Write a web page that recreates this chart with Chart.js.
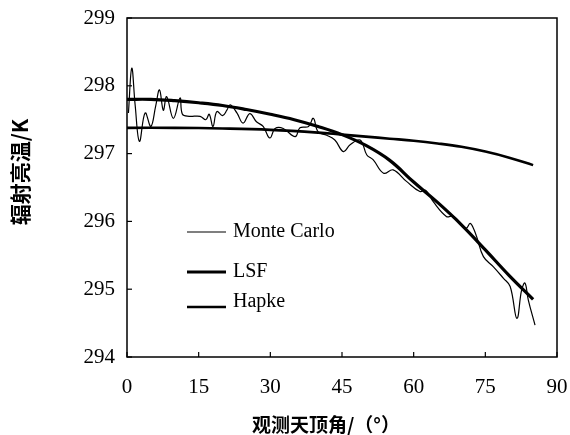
<!DOCTYPE html>
<html>
<head>
<meta charset="utf-8">
<script src="https://cdn.jsdelivr.net/npm/chart.js@4.4.0/dist/chart.umd.min.js"></script>
<style>
  html, body { margin: 0; padding: 0; background: #fff; }
  #wrap { width: 570px; height: 435px; }
</style>
</head>
<body>
<div id="wrap"><canvas id="myChart"></canvas></div>
<script>
// viewing zenith angle (deg) vs brightness temperature (K)
const mcAngle = [0.3, 1.0, 1.7, 2.6, 3.8, 5.0, 6.0, 6.8, 7.6, 8.3, 9.7, 11.1, 11.6, 13.0, 15.3, 16.5, 17.2, 18.0, 18.8, 20.0,
  20.9, 21.6, 23.0, 24.3, 25.7, 27.1, 28.5, 29.9, 31.0, 32.7, 35.2, 36.2, 38.0, 39.0, 40.0, 41.8, 43.5, 45.3, 46.7, 48.8,
  50.2, 51.5, 53.7, 55.7, 58.5, 61.3, 62.5, 64.1, 66.9, 68.2, 69.5, 71.0, 71.8, 72.5, 73.2, 74.6, 76.7, 78.8, 80.2, 81.6,
  82.6, 83.3, 84.0, 85.4];
const mcTemp = [297.6, 298.26, 297.72, 297.18, 297.6, 297.4, 297.7, 297.94, 297.64, 297.84, 297.52, 297.82, 297.58, 297.55, 297.55, 297.5, 297.58, 297.4, 297.62, 297.56,
  297.64, 297.72, 297.6, 297.45, 297.59, 297.47, 297.4, 297.23, 297.37, 297.37, 297.25, 297.38, 297.4, 297.52, 297.32, 297.27, 297.2, 297.03, 297.13, 297.2,
  296.98, 296.91, 296.71, 296.76, 296.59, 296.44, 296.46, 296.29, 296.07, 296.08, 296.0, 295.9, 295.97, 295.9, 295.77, 295.48, 295.33, 295.16, 295.04, 294.57,
  294.99, 295.09, 294.84, 294.47];

const lsfAngle = [0, 5, 10, 15, 20, 25, 30, 35, 40, 45, 50, 55, 60, 65, 70, 75, 80, 85];
const lsfTemp = [297.8, 297.8, 297.78, 297.75, 297.71, 297.65, 297.58, 297.5, 297.4, 297.28, 297.12, 296.9, 296.58, 296.28, 295.95, 295.58, 295.2, 294.85];

const hapkeAngle = [0, 10, 20, 30, 40, 45, 50, 55, 60, 65, 70, 75, 80, 85];
const hapkeTemp = [297.38, 297.38, 297.37, 297.35, 297.31, 297.28, 297.25, 297.22, 297.19, 297.15, 297.1, 297.03, 296.94, 296.83];

const xTicks = [0, 15, 30, 45, 60, 75, 90];
const yTicks = [294, 295, 296, 297, 298, 299];

const seriesNames = ["Monte Carlo", "LSF", "Hapke"];
const xTitle = "观测天顶角/（°）";
const yTitle = "辐射亮温/K";

const serif = "'Liberation Serif', 'DejaVu Serif', serif";
const cjk = "'Noto Sans CJK SC', sans-serif";

function pts(xs, ys) {
  return xs.map((x, i) => ({ x: x, y: ys[i] }));
}

// no label overhang padding, the layout padding decides the plot box
function noPad(s) {
  s.paddingLeft = 0;
  s.paddingRight = 0;
  s.paddingTop = 0;
  s.paddingBottom = 0;
}

// box, inward ticks, legend and titles
const frame = {
  id: "frame",
  afterDraw(chart) {
    const ctx = chart.ctx;
    const a = chart.chartArea;
    const sx = chart.scales.x;
    const sy = chart.scales.y;
    ctx.save();
    ctx.strokeStyle = "#000";
    ctx.lineWidth = 1.5;
    ctx.strokeRect(a.left, a.top, a.right - a.left, a.bottom - a.top);
    ctx.lineWidth = 1.2;
    xTicks.forEach((v) => {
      const px = sx.getPixelForValue(v);
      ctx.beginPath();
      ctx.moveTo(px, a.bottom);
      ctx.lineTo(px, a.bottom - 5);
      ctx.stroke();
    });
    yTicks.forEach((v) => {
      const py = sy.getPixelForValue(v);
      ctx.beginPath();
      ctx.moveTo(a.left, py);
      ctx.lineTo(a.left + 5, py);
      ctx.stroke();
    });

    // legend inside plot
    const ly = [232, 272, 307];
    chart.data.datasets.forEach((ds, i) => {
      ctx.strokeStyle = ds.borderColor;
      ctx.lineWidth = ds.borderWidth;
      ctx.beginPath();
      ctx.moveTo(187, ly[i]);
      ctx.lineTo(226, ly[i]);
      ctx.stroke();
      ctx.fillStyle = "#000";
      ctx.font = "20px " + serif;
      ctx.textBaseline = "middle";
      ctx.textAlign = "left";
      ctx.fillText(ds.label, 233, i === 2 ? 302 : ly[i]);
    });

    ctx.fillStyle = "#000";
    ctx.font = "bold 19px " + cjk;
    ctx.textAlign = "center";
    ctx.textBaseline = "middle";
    ctx.fillText(xTitle, 326, 425);

    ctx.translate(20, 172);
    ctx.rotate(-Math.PI / 2);
    ctx.font = "bold 21px " + cjk;
    ctx.fillText(yTitle, 0, 0);
    ctx.restore();
  },
};

const ctx = document.getElementById("myChart").getContext("2d");
const myChart = new Chart(ctx, {
  type: "line",
  data: {
    datasets: [
      {
        label: seriesNames[0],
        data: pts(mcAngle, mcTemp),
        borderColor: "#000",
        borderWidth: 1.2,
        pointRadius: 0,
        tension: 0.4,
      },
      {
        label: seriesNames[1],
        data: pts(lsfAngle, lsfTemp),
        borderColor: "#000",
        borderWidth: 3.2,
        pointRadius: 0,
        tension: 0.4,
      },
      {
        label: seriesNames[2],
        data: pts(hapkeAngle, hapkeTemp),
        borderColor: "#000",
        borderWidth: 2.6,
        pointRadius: 0,
        tension: 0.4,
      },
    ],
  },
  options: {
    responsive: true,
    maintainAspectRatio: false,
    animation: false,
    layout: { padding: { top: 18, right: 13, left: 0, bottom: 0 } },
    plugins: {
      legend: { display: false },
      tooltip: { enabled: false },
    },
    scales: {
      x: {
        type: "linear",
        min: 0,
        max: 90,
        afterBuildTicks: (s) => { s.ticks = xTicks.map((v) => ({ value: v })); },
        afterFit: (s) => { s.height = 78; noPad(s); },
        grid: { display: false, drawTicks: false },
        border: { display: false },
        ticks: { color: "#000", padding: 18, maxRotation: 0, font: { family: serif, size: 21 } },
      },
      y: {
        min: 294,
        max: 299,
        afterBuildTicks: (s) => { s.ticks = yTicks.map((v) => ({ value: v })); },
        afterFit: (s) => { s.width = 127; noPad(s); },
        grid: { display: false, drawTicks: false },
        border: { display: false },
        ticks: { color: "#000", padding: 12, font: { family: serif, size: 21 } },
      },
    },
  },
  plugins: [frame],
});
</script>
</body>
</html>
